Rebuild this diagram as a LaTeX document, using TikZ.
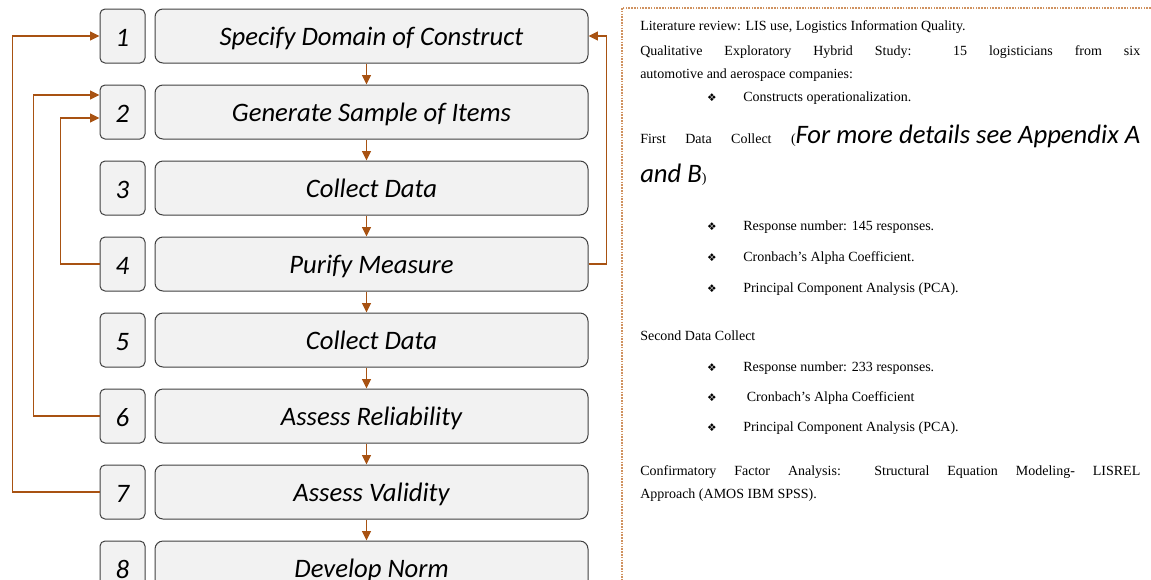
\documentclass[tikz,border=0pt]{standalone}
\usepackage{fontspec}
\setmainfont{Liberation Serif}
\newfontfamily\calibri{Carlito}
\newfontfamily\dingfont{DejaVu Sans}
\usepackage{tikz}
\usetikzlibrary{positioning, arrows.meta, calc}

\definecolor{loopbrown}{RGB}{168,82,18}
\definecolor{panelline}{RGB}{208,146,96}
\definecolor{boxgray}{RGB}{242,242,242}
\definecolor{edgegray}{RGB}{64,64,64}

\newcommand{\bigit}{\calibri\itshape\fontsize{20}{24}\selectfont}
\newcommand{\bodyfont}{\fontsize{10.5}{12.5}\selectfont}
\newcommand{\bul}{{\dingfont\fontsize{8}{10}\selectfont ❖}}

\begin{document}
\begin{tikzpicture}[x=0.75pt, y=-0.75pt, node distance=15.75pt and 6.75pt]
        \tikzstyle{numbox} = [rectangle, draw=edgegray, fill=boxgray, line width=0.75pt, rounded corners=3.75pt, minimum width=33.75pt, minimum height=40.5pt, inner sep=0pt, text height=15.75pt, text depth=0pt, font=\bigit]
        \tikzstyle{stepbox} = [rectangle, draw=edgegray, fill=boxgray, line width=0.75pt, rounded corners=6pt, minimum width=324.75pt, minimum height=40.5pt, inner sep=0pt]
        \tikzstyle{steptext} = [anchor=base, inner sep=0pt, font=\bigit]
        \tikzstyle{arrow} = [line width=1.3pt, draw=loopbrown, -{Triangle[length=7pt, width=6.5pt]}]
        \tikzstyle{panel} = [line width=1pt, draw=panelline, dash pattern=on 1.2pt off 0.9pt]
        \tikzstyle{note} = [anchor=base west, inner sep=0pt, font=\bodyfont]
        \tikzstyle{bullet} = [anchor=base, inner sep=0pt]

        \useasboundingbox (0,0) rectangle (1151,579);

        % step numbers
        \node [numbox] (n1) at (122.5,36) {1};
        \node [numbox, below=of n1] (n2) {2};
        \node [numbox, below=of n2] (n3) {3};
        \node [numbox, below=of n3] (n4) {4};
        \node [numbox, below=of n4] (n5) {5};
        \node [numbox, below=of n5] (n6) {6};
        \node [numbox, below=of n6] (n7) {7};
        \node [numbox, below=of n7] (n8) {8};

        % step boxes
        \foreach \i in {1,...,8}
            \node [stepbox, right=of n\i] (s\i) {};

        \foreach \i/\txt in {1/Specify Domain of Construct, 2/Generate Sample of Items, 3/Collect Data, 4/Purify Measure, 5/Collect Data, 6/Assess Reliability, 7/Assess Validity, 8/Develop Norm}{
            \begin{scope}
                \clip (s\i.north west) rectangle ([yshift=10.5pt]s\i.south east);
                \node [steptext] (t\i) at ([yshift=-28.1pt]s\i.north) {\txt};
            \end{scope}
        }

        % main flow
        \foreach \a/\b in {1/2, 2/3, 3/4, 4/5, 5/6, 6/7, 7/8}
            \draw [arrow] ([xshift=-3.75pt]s\a.south) -- ([xshift=-3.75pt]s\b.north);

        % loops back
        \draw [arrow] (n7.west) -- ++(-87,0) |- (n1.west);
        \draw [arrow] (n6.west) -- ++(-66,0) |- ([yshift=12.75pt]n2.west);
        \draw [arrow] (n4.west) -- ++(-39,0) |- ([yshift=-4.5pt]n2.west);
        \draw [arrow] (s4.east) -- ++(18,0) |- (s1.east);

        % notes
        \draw [panel] (622,8) rectangle (1175,600);

        \node [note] (lit) at (640,30.5) {Literature review: LIS use, Logistics Information Quality.};
        \node [note] (qual) at (640,55.5) {\makebox[375pt][s]{Qualitative Exploratory Hybrid Study: 15 logisticians from six}};
        \node [note] (qual2) at (640,78) {automotive and aerospace companies:};
        \node [note] (first) at (640,143.5) {\makebox[375pt][s]{First Data Collect (\mbox{\bigit For more details see Appendix A}}};
        \node [note] (first2) at (640,182.5) {{\bigit and B})};
        \node [note] (second) at (640,340) {Second Data Collect};
        \node [note] (cfa) at (640,475) {\makebox[375pt][s]{Confirmatory Factor Analysis: Structural Equation Modeling- LISREL}};
        \node [note] (cfa2) at (640,498) {Approach (AMOS IBM SPSS).};

        \foreach \y/\txt [count=\k] in {101/Constructs operationalization., 230/Response number: 145 responses., 261/Cronbach’s Alpha Coefficient., 292/Principal Component Analysis (PCA)., 371/Response number: 233 responses., 401/\ Cronbach’s Alpha Coefficient, 431/Principal Component Analysis (PCA).}{
            \node [bullet] (b\k) at (712,\y) {\bul};
            \node [note] (bt\k) at (743,\y) {\txt};
        }
\end{tikzpicture}
\end{document}
